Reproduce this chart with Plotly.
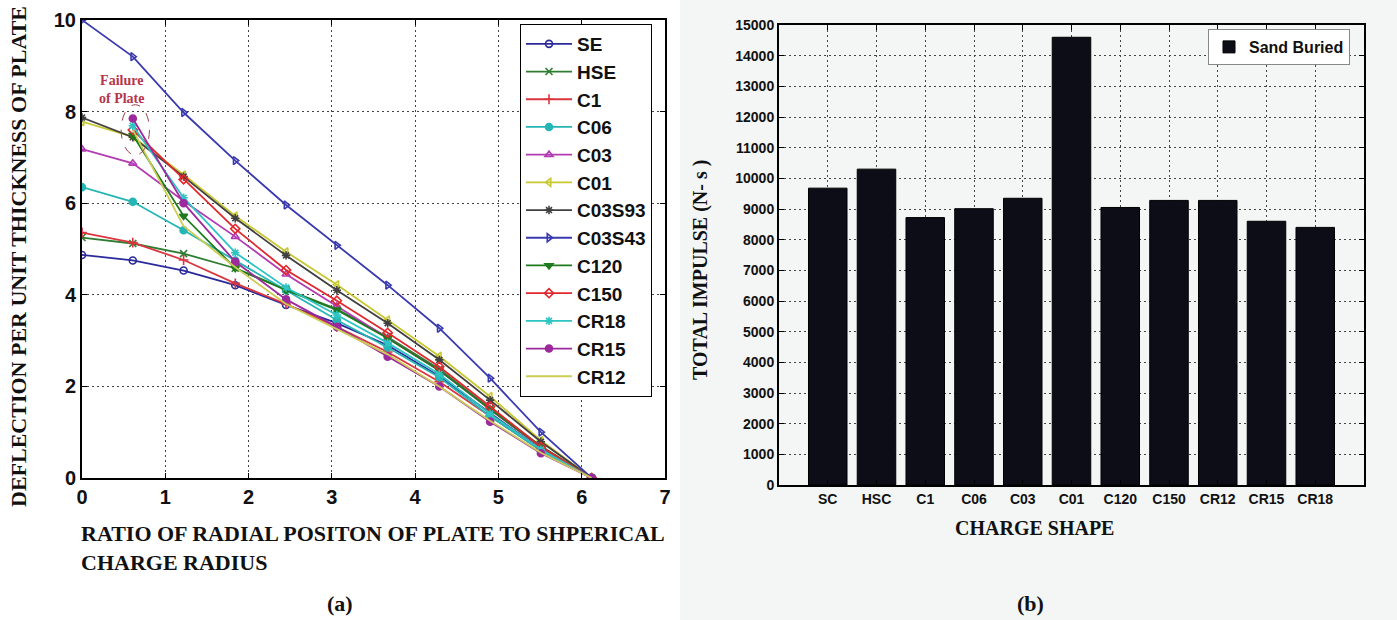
import plotly.graph_objects as go

# ---------------- data: panel (a) ----------------
ratio = [0, 0.61, 1.22, 1.84, 2.45, 3.06, 3.67, 4.29, 4.9, 5.51, 6.12]
series_names = ["SE", "HSE", "C1", "C06", "C03", "C01", "C03S93", "C03S43",
                "C120", "C150", "CR18", "CR15", "CR12"]
SE      = [4.87, 4.75, 4.53, 4.21, 3.78, 3.38, 2.90, 2.22, 1.42, 0.62, 0]
HSE     = [5.25, 5.12, 4.90, 4.58, 4.12, 3.69, 3.08, 2.38, 1.52, 0.70, 0]
C1      = [5.36, 5.14, 4.76, 4.25, 3.80, 3.30, 2.75, 2.10, 1.35, 0.60, 0]
C06     = [6.35, 6.03, 5.41, 4.75, 4.10, 3.45, 2.85, 2.20, 1.35, 0.60, 0]
C03     = [7.18, 6.87, 6.05, 5.27, 4.45, 3.75, 3.05, 2.35, 1.50, 0.66, 0]
C01     = [7.78, 7.45, 6.62, 5.72, 4.94, 4.22, 3.45, 2.66, 1.78, 0.82, 0]
C03S93  = [7.87, 7.44, 6.58, 5.67, 4.86, 4.10, 3.38, 2.58, 1.70, 0.79, 0]
C03S43  = [10.0, 9.20, 7.98, 6.93, 5.96, 5.08, 4.21, 3.27, 2.18, 1.00, 0]
C120    = [None, 7.49, 5.72, 4.58, 4.10, 3.67, 3.05, 2.35, 1.50, 0.68, 0]
C150    = [None, 7.60, 6.52, 5.44, 4.54, 3.87, 3.17, 2.43, 1.56, 0.68, 0]
CR18    = [None, 7.69, 6.12, 4.92, 4.16, 3.56, 2.95, 2.27, 1.40, 0.62, 0]
CR15    = [None, 7.85, 6.00, 4.72, 3.90, 3.30, 2.65, 2.00, 1.23, 0.54, 0]
CR12    = [None, 7.60, 5.50, 4.60, 3.80, 3.25, 2.70, 2.00, 1.25, 0.55, 0]
series_values = [SE, HSE, C1, C06, C03, C01, C03S93, C03S43, C120, C150, CR18, CR15, CR12]
x_ticks_a = [0, 1, 2, 3, 4, 5, 6, 7]
y_ticks_a = [0, 2, 4, 6, 8, 10]

# ---------------- data: panel (b) ----------------
charge_shapes = ["SC", "HSC", "C1", "C06", "C03", "C01", "C120", "C150", "CR12", "CR15", "CR18"]
total_impulse = [9680, 10300, 8720, 9010, 9350, 14600, 9050, 9280, 9280, 8600, 8400]
y_ticks_b = list(range(0, 15001, 1000))

# ---------------- styles ----------------
colors = ["#2a2a9a", "#2e7d32", "#d9363e", "#26b5b5", "#b23ab2", "#c8c832", "#404040",
          "#3a3ab0", "#1e7a1e", "#e0282e", "#2ec4c4", "#9c2a9c", "#cccc55"]
symbols = ["circle-open", "x-thin-open", "cross-thin-open", "circle", "triangle-up-open",
           "triangle-left-open", "asterisk-open", "triangle-right-open", "triangle-down",
           "diamond-open", "asterisk-open", "circle", None]

W, H = 1397, 620
def px(x): return x / W
def py(y): return 1 - y / H
def b(v): return "<b>%s</b>" % v

fig = go.Figure()

for name, vals, col, sym in zip(series_names, series_values, colors, symbols):
    mode = "lines+markers" if sym else "lines"
    mk = dict(symbol=sym or "circle", size=7, color=col, line=dict(color=col, width=1.6))
    fig.add_trace(go.Scatter(x=ratio, y=vals, name=name, mode=mode,
                             line=dict(color=col, width=1.8), marker=mk,
                             connectgaps=False, xaxis="x", yaxis="y", legend="legend"))

fig.add_trace(go.Bar(x=list(range(1, len(charge_shapes) + 1)), y=total_impulse,
                     name="Sand Buried", width=0.79,
                     marker=dict(color="#0d0d18", line=dict(color="#000000", width=1)),
                     xaxis="x2", yaxis="y2", legend="legend2"))

arial = dict(family="Arial, Liberation Sans, sans-serif", color="#111")
bold_arial = dict(family="Arial, Liberation Sans, sans-serif", weight="bold", color="#111")
serif_bold = dict(family="Liberation Serif, Times New Roman, serif", weight="bold", color="#111")
grid_common = dict(showgrid=True, gridcolor="#444", griddash="2px,3px", gridwidth=1,
                   showline=True, linecolor="#000", linewidth=2, mirror="ticks",
                   ticks="inside", ticklen=5, tickcolor="#000", zeroline=False,
                   automargin=False)

fig.update_layout(
    width=W, height=H,
    margin=dict(l=0, r=0, t=0, b=0),
    paper_bgcolor="#ffffff", plot_bgcolor="rgba(0,0,0,0)",
    showlegend=True,
    xaxis=dict(domain=[px(82), px(665)], range=[0, 7], anchor="y",
               tickvals=x_ticks_a, ticktext=[b(v) for v in x_ticks_a],
               tickfont=dict(size=20, **arial), **grid_common),
    yaxis=dict(domain=[py(478), py(20)], range=[0, 10], anchor="x",
               tickvals=y_ticks_a, ticktext=[b(v) for v in y_ticks_a],
               tickfont=dict(size=20, **arial), **grid_common),
    xaxis2=dict(domain=[px(779), px(1364)], range=[0, 12], anchor="y2",
                tickvals=list(range(1, len(charge_shapes) + 1)),
                ticktext=[b(s) for s in charge_shapes],
                tickfont=dict(size=14, family="Liberation Sans Narrow, Arial Narrow, Arial",
                              color="#111"), **grid_common),
    yaxis2=dict(domain=[py(485), py(25)], range=[0, 15000], anchor="x2",
                tickvals=y_ticks_b, ticktext=[b(v) for v in y_ticks_b],
                tickfont=dict(size=14, **arial), **grid_common),
    legend=dict(x=px(520), y=py(24), xanchor="left", yanchor="top",
                bgcolor="#ffffff", bordercolor="#000", borderwidth=1,
                font=dict(size=19, **bold_arial), tracegroupgap=0, itemwidth=46),
    legend2=dict(x=px(1208), y=py(29), xanchor="left", yanchor="top",
                 bgcolor="#ffffff", bordercolor="#888", borderwidth=1,
                 font=dict(size=16, **bold_arial)),
    shapes=[
        dict(type="rect", xref="paper", yref="paper", x0=px(680), x1=1, y0=0, y1=1,
             fillcolor="#f3f6f4", line=dict(width=0), layer="below"),
        dict(type="circle", xref="x", yref="y", x0=0.47, x1=0.81, y0=7.05, y1=8.15,
             line=dict(color="#a04050", width=1, dash="dash")),
    ],
    annotations=[
        dict(text="DEFLECTION PER UNIT THICKNESS OF PLATE", x=px(18), y=py(257),
             xref="paper", yref="paper", xanchor="center", yanchor="middle",
             textangle=-90, showarrow=False, font=dict(size=22, **serif_bold)),
        dict(text="RATIO OF RADIAL POSITON OF PLATE TO SHPERICAL<br>CHARGE RADIUS",
             x=px(79), y=py(548), xref="paper", yref="paper", xanchor="left",
             yanchor="middle", align="left", showarrow=False,
             font=dict(size=22, **serif_bold)),
        dict(text="(a)", x=px(340), y=py(603), xref="paper", yref="paper",
             xanchor="center", yanchor="middle",
             showarrow=False, font=dict(size=22, **serif_bold)),
        dict(text="Failure<br>of Plate", x=px(121), y=py(89), xref="paper", yref="paper",
             xanchor="center", yanchor="middle", showarrow=False,
             font=dict(size=14, family="Liberation Serif, Times New Roman, serif",
                       weight="bold", color="#b5364a")),
        dict(text="TOTAL IMPULSE (N- s )", x=px(700), y=py(270), xref="paper", yref="paper",
             xanchor="center", yanchor="middle",
             textangle=-90, showarrow=False, font=dict(size=20, **serif_bold)),
        dict(text="CHARGE SHAPE", x=px(1034), y=py(528), xref="paper", yref="paper",
             xanchor="center", yanchor="middle",
             showarrow=False, font=dict(size=20, **serif_bold)),
        dict(text="(b)", x=px(1030), y=py(603), xref="paper", yref="paper",
             xanchor="center", yanchor="middle",
             showarrow=False, font=dict(size=22, **serif_bold)),
    ],
)

fig.write_html("out.html", config={"displayModeBar": False},
               post_script="document.body.style.margin='0';document.body.style.overflow='hidden';")
